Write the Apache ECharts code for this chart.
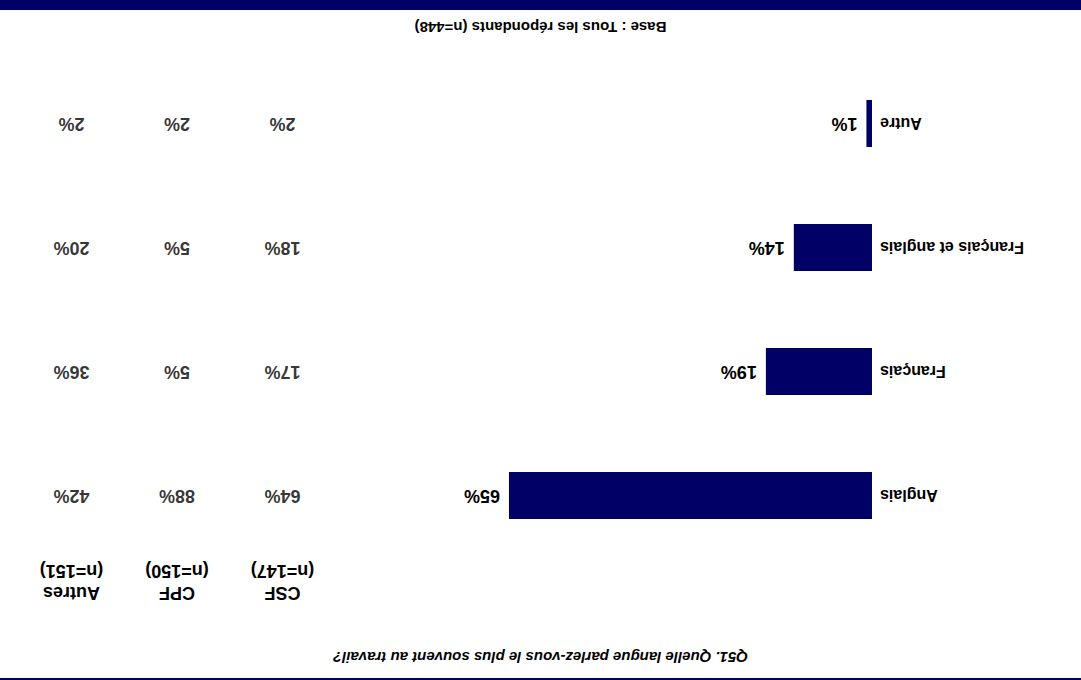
<!DOCTYPE html>
<html>
<head>
<meta charset="utf-8">
<script src="https://cdn.jsdelivr.net/npm/echarts@6/dist/echarts.min.js"></script>
<style>
  html, body { margin: 0; padding: 0; background: #fff; }
  /* la figure d'origine est affichée à l'envers */
  #chart { width: 1081px; height: 680px; transform: rotate(180deg); }
</style>
</head>
<body>
<div id="chart"></div>
<script>
const categories = ['Anglais', 'Français', 'Français et anglais', 'Autre'];
const totalValues = [65, 19, 14, 1];
const groupNames = ['CSF', 'CPF', 'Autres'];
const groupSizes = ['(n=147)', '(n=150)', '(n=151)'];
const csfValues = [64, 17, 18, 2];
const cpfValues = [88, 5, 5, 2];
const autresValues = [42, 36, 20, 2];

const navy = '#000066';
const font = 'Liberation Sans, Arial, sans-serif';

// une colonne du tableau = un point par catégorie
function tableSeries(values, col) {
  return {
    type: 'scatter',
    xAxisIndex: 1,
    yAxisIndex: 1,
    symbolSize: 0,
    data: values.map((v, i) => [col, categories[i], v]),
    label: {
      show: true,
      position: 'inside',
      formatter: (p) => p.value[2] + '%',
      color: '#000',
      fontWeight: 'bold',
      fontSize: 18,
      fontFamily: font
    }
  };
}

const chart = echarts.init(document.getElementById('chart'), null, { renderer: 'svg' });

const option = {
  backgroundColor: '#fff',
  animation: false,
  title: [
    {
      text: 'Q51. Quelle langue parlez-vous le plus souvent au travail?',
      left: 'center',
      top: 10,
      textStyle: { fontSize: 15, fontWeight: 'bold', fontStyle: 'italic', color: '#000', fontFamily: font }
    },
    {
      text: 'Base : Tous les répondants (n=448)',
      left: 'center',
      top: 640,
      textStyle: { fontSize: 15, fontWeight: 'bold', color: '#000', fontFamily: font }
    }
  ],
  graphic: [
    { type: 'rect', shape: { x: 0, y: 0, width: 1081, height: 2 }, style: { fill: navy } },
    { type: 'rect', shape: { x: 0, y: 670, width: 1081, height: 10 }, style: { fill: navy } }
  ],
  grid: [
    { left: 209, width: 558.5, top: 122.5, height: 496 },
    { left: 745.75, width: 316.5, top: 122.5, height: 496 }
  ],
  xAxis: [
    {
      type: 'value', gridIndex: 0, min: 0, max: 100,
      show: false
    },
    {
      type: 'category', gridIndex: 1, data: groupNames, position: 'top',
      axisLine: { show: false }, axisTick: { show: false }, splitLine: { show: false },
      axisLabel: {
        margin: 2,
        formatter: (v, i) => v + '\n' + groupSizes[i],
        color: '#000', fontWeight: 'bold', fontSize: 18, lineHeight: 22, fontFamily: font
      }
    }
  ],
  yAxis: [
    {
      type: 'category', gridIndex: 0, data: categories, inverse: true,
      axisLine: { show: false }, axisTick: { show: false }, splitLine: { show: false },
      axisLabel: { margin: 8, color: '#000', fontWeight: 'bold', fontSize: 16, fontFamily: font }
    },
    {
      type: 'category', gridIndex: 1, data: categories, inverse: true,
      show: false
    }
  ],
  series: [
    {
      type: 'bar',
      data: totalValues,
      barWidth: 47,
      itemStyle: { color: navy },
      label: {
        show: true, position: 'right', distance: 9,
        formatter: '{c}%',
        color: '#000', fontWeight: 'bold', fontSize: 18, fontFamily: font
      }
    },
    tableSeries(csfValues, 'CSF'),
    tableSeries(cpfValues, 'CPF'),
    tableSeries(autresValues, 'Autres')
  ]
};

chart.setOption(option);
</script>
</body>
</html>
